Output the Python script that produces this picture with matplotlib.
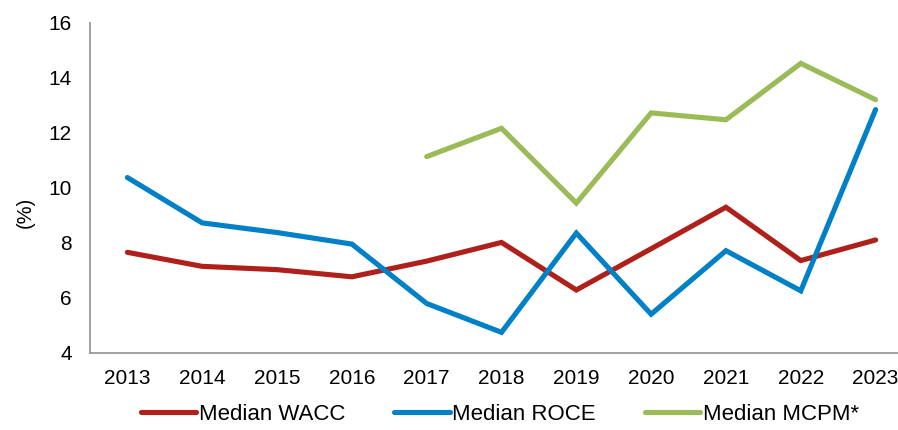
import matplotlib
matplotlib.use("Agg")
import numpy as np
from matplotlib import pyplot as plt

years = ["2013", "2014", "2015", "2016", "2017", "2018", "2019", "2020", "2021", "2022", "2023"]
wacc = [7.65, 7.14, 7.02, 6.76, 7.33, 8.01, 6.28, 7.78, 9.29, 7.35, 8.10]
roce = [10.37, 8.72, 8.37, 7.95, 5.79, 4.74, 8.35, 5.40, 7.71, 6.25, 12.84]
mcpm = [np.nan, np.nan, np.nan, np.nan, 11.13, 12.16, 9.44, 12.72, 12.47, 14.52, 13.20]

plt.rcParams['font.family'] = ['Liberation Sans', 'DejaVu Sans']

fig = plt.figure(figsize=(8.98, 4.30), dpi=100)
# axes runs a bit past the right edge of the figure, like the reference
ax = fig.add_axes([90 / 898, 1 - 352.7 / 430, 823 / 898, 330 / 430])

x = np.arange(len(years))
style = dict(lw=3.7, solid_capstyle="round", solid_joinstyle="miter")
ax.plot(x, wacc, color="#B0201A", label="Median WACC", **style)
ax.plot(x, roce, color="#0080C6", label="Median ROCE", **style)
ax.plot(x, mcpm, color="#9BBB59", label="Median MCPM*", **style)

ax.set_xlim(-0.5, 10.5)
ax.set_ylim(4, 16)
ax.set_yticks([4, 6, 8, 10, 12, 14, 16])
ax.set_xticks(x)
ax.set_xticklabels(years)
ax.tick_params(length=0, labelsize=15)
ax.tick_params(axis="x", pad=12)
ax.tick_params(axis="y", pad=13)
for s in ["top", "right"]:
    ax.spines[s].set_visible(False)
for s in ["left", "bottom"]:
    ax.spines[s].set_color("#999999")
    ax.spines[s].set_linewidth(1.3)

fig.text(25 / 898, 1 - 212 / 430, "(%)", rotation=90, ha="center", va="center", fontsize=14.5)

fig.legend(loc="center", bbox_to_anchor=(500 / 898, 1 - 414 / 430), ncol=3, frameon=False,
           fontsize=16, handlelength=2.5, handletextpad=0.12, columnspacing=2.2,
           borderpad=0, borderaxespad=0)

fig.savefig("out.png", dpi=100)
